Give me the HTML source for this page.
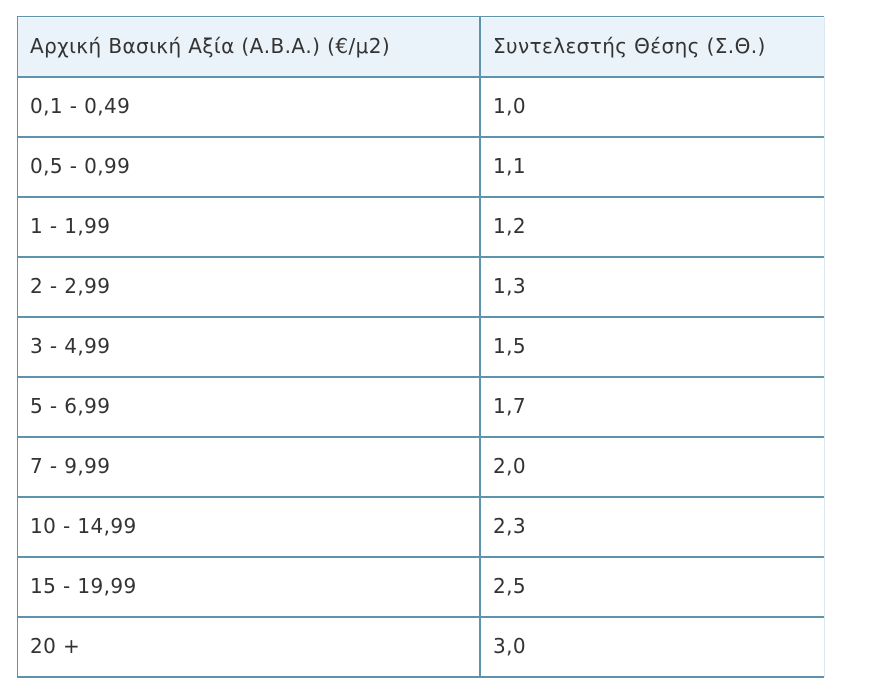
<!DOCTYPE html>
<html><head><meta charset="utf-8"><style>
body{margin:0;background:#fff;width:880px;height:693px;overflow:hidden;font-family:"DejaVu Sans","Liberation Sans",sans-serif;position:relative;}
.h{position:absolute;left:17px;width:807px;height:2px;background:#5f93ad;}
.v{position:absolute;top:17px;width:2px;height:660px;background:#5f93ad;}
.hd{position:absolute;left:18px;top:18px;width:806px;height:58px;background:#eaf3f9;}
.t{position:absolute;font-size:20px;color:#333;line-height:22px;letter-spacing:0.4px;}
</style></head><body>
<div class="hd"></div>
<div class="h" style="top:16px;height:1px"></div>
<div class="h" style="top:76px"></div><div class="h" style="top:136px"></div><div class="h" style="top:196px"></div><div class="h" style="top:256px"></div><div class="h" style="top:316px"></div><div class="h" style="top:376px"></div><div class="h" style="top:436px"></div><div class="h" style="top:496px"></div><div class="h" style="top:556px"></div><div class="h" style="top:616px"></div><div class="h" style="top:676px"></div>
<div class="v" style="left:17px;width:1px"></div>
<div class="v" style="left:479px"></div>
<div class="v" style="left:824px;width:1px;background:#dde8ee"></div>
<div class="t" style="left:30px;top:35px">Αρχική Βασική Αξία (Α.Β.Α.) (€/μ2)</div>
<div class="t" style="left:493px;top:35px">Συντελεστής Θέσης (Σ.Θ.)</div>
<div class="t" style="left:30px;top:95px">0,1 - 0,49</div><div class="t" style="left:493px;top:95px">1,0</div>
<div class="t" style="left:30px;top:155px">0,5 - 0,99</div><div class="t" style="left:493px;top:155px">1,1</div>
<div class="t" style="left:30px;top:215px">1 - 1,99</div><div class="t" style="left:493px;top:215px">1,2</div>
<div class="t" style="left:30px;top:275px">2 - 2,99</div><div class="t" style="left:493px;top:275px">1,3</div>
<div class="t" style="left:30px;top:335px">3 - 4,99</div><div class="t" style="left:493px;top:335px">1,5</div>
<div class="t" style="left:30px;top:395px">5 - 6,99</div><div class="t" style="left:493px;top:395px">1,7</div>
<div class="t" style="left:30px;top:455px">7 - 9,99</div><div class="t" style="left:493px;top:455px">2,0</div>
<div class="t" style="left:30px;top:515px">10 - 14,99</div><div class="t" style="left:493px;top:515px">2,3</div>
<div class="t" style="left:30px;top:575px">15 - 19,99</div><div class="t" style="left:493px;top:575px">2,5</div>
<div class="t" style="left:30px;top:635px">20 +</div><div class="t" style="left:493px;top:635px">3,0</div>
</body></html>
